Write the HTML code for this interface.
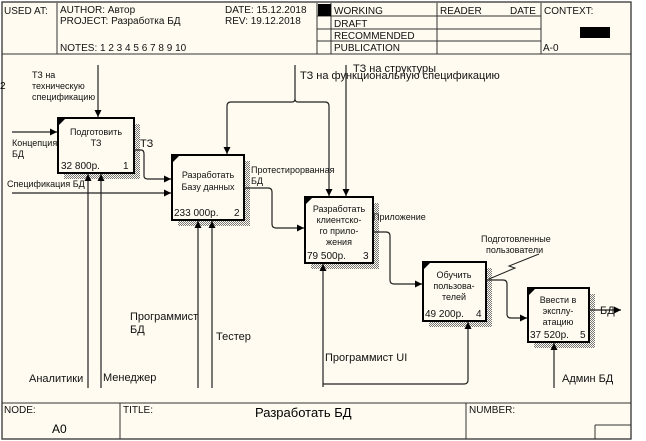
<!DOCTYPE html>
<html><head><meta charset="utf-8"><style>
body{margin:0;background:#fff;}
svg{display:block;font-family:"Liberation Sans",Arial,sans-serif;}
</style></head><body>
<svg width="646" height="441" viewBox="0 0 646 441" xmlns="http://www.w3.org/2000/svg">
<defs>
<pattern id="sh" width="2" height="2" patternUnits="userSpaceOnUse"><rect width="2" height="2" fill="#fffbf0"/><rect width="1" height="1" fill="#777"/><rect x="1" y="1" width="1" height="1" fill="#777"/></pattern>
<marker id="ar" markerWidth="8" markerHeight="8" refX="7" refY="3.5" orient="auto" markerUnits="userSpaceOnUse"><path d="M0,0 L7,3.5 L0,7 z" fill="#000"/></marker>
</defs>
<rect x="2" y="2" width="629" height="437" fill="#fffbf0" stroke="#333" stroke-width="1.3"/>
<!-- header -->
<g stroke="#333" stroke-width="1" fill="none">
<line x1="2" y1="54" x2="631" y2="54"/>
<line x1="57" y1="3" x2="57" y2="54"/>
<line x1="317" y1="3" x2="317" y2="54"/>
<line x1="331" y1="3" x2="331" y2="54"/>
<line x1="437" y1="3" x2="437" y2="54"/>
<line x1="541" y1="3" x2="541" y2="54"/>
<line x1="317" y1="16" x2="541" y2="16"/>
<line x1="317" y1="29" x2="541" y2="29"/>
<line x1="317" y1="41" x2="541" y2="41"/>
<!-- footer -->
<line x1="2" y1="403" x2="631" y2="403"/>
<line x1="120" y1="403" x2="120" y2="439"/>
<line x1="466" y1="403" x2="466" y2="439"/>
<line x1="595" y1="425" x2="631" y2="425"/>
<line x1="595" y1="425" x2="595" y2="439"/>
</g>
<rect x="318" y="4" width="13" height="12" fill="#000"/>
<rect x="580" y="27" width="30" height="11" fill="#000"/>
<g font-size="10" fill="#111">
<text x="4" y="14">USED AT:</text>
<text x="60" y="13">AUTHOR:  Автор</text>
<text x="60" y="24">PROJECT:  Разработка БД</text>
<text x="60" y="51">NOTES:  1  2  3  4  5  6  7  8  9  10</text>
<text x="225" y="13">DATE:  15.12.2018</text>
<text x="225" y="24">REV:    19.12.2018</text>
<text x="334" y="14">WORKING</text>
<text x="334" y="27">DRAFT</text>
<text x="334" y="39">RECOMMENDED</text>
<text x="334" y="51">PUBLICATION</text>
<text x="440" y="14">READER</text>
<text x="510" y="14">DATE</text>
<text x="544" y="14">CONTEXT:</text>
<text x="543" y="51">A-0</text>
<text x="4" y="413">NODE:</text>
<text x="123" y="413">TITLE:</text>
<text x="469" y="413">NUMBER:</text>
</g>
<text x="52" y="433" font-size="12">A0</text>
<text x="255" y="417" font-size="13">Разработать БД</text>
<text x="0" y="89" font-size="10">2</text>

<!-- shadows -->
<g fill="url(#sh)">
<rect x="64" y="124" width="76" height="55"/>
<rect x="178" y="161" width="72" height="65"/>
<rect x="311" y="203" width="68" height="66"/>
<rect x="429" y="268" width="63" height="59"/>
<rect x="534" y="294" width="61" height="54"/>
</g>
<g fill="#fffbf0" stroke="#000" stroke-width="2">
<rect x="58" y="118" width="76" height="55"/>
<rect x="172" y="155" width="72" height="65"/>
<rect x="305" y="197" width="68" height="66"/>
<rect x="423" y="262" width="63" height="59"/>
<rect x="528" y="288" width="61" height="54"/>
</g>
<g fill="#000">
<path d="M59,119 h6 l-6,6z"/><path d="M173,156 h6 l-6,6z"/><path d="M306,198 h6 l-6,6z"/><path d="M424,263 h6 l-6,6z"/><path d="M529,289 h6 l-6,6z"/>
</g>
<g font-size="9" fill="#111" text-anchor="middle">
<text x="96" y="135">Подготовить</text><text x="96" y="146">ТЗ</text>
<text x="208" y="178">Разработать</text><text x="208" y="190">Базу данных</text>
<text x="339" y="212">Разработать</text><text x="339" y="223">клиентско-</text><text x="339" y="234">го прило-</text><text x="339" y="245">жения</text>
<text x="454" y="278">Обучить</text><text x="454" y="289">пользова-</text><text x="454" y="300">телей</text>
<text x="558" y="303">Ввести  в</text><text x="558" y="314">эксплу-</text><text x="558" y="325">атацию</text>
</g>
<g font-size="10" fill="#111">
<text x="61" y="169">32 800р.</text><text x="123" y="169">1</text>
<text x="174" y="216">233 000р.</text><text x="234" y="216">2</text>
<text x="307" y="259">79 500р.</text><text x="363" y="259">3</text>
<text x="425" y="317">49 200р.</text><text x="476" y="317">4</text>
<text x="530" y="338">37 520р.</text><text x="580" y="338">5</text>
</g>

<!-- arrows -->
<g stroke="#222" stroke-width="1.2" fill="none">
<path d="M12,132 H57" marker-end="url(#ar)"/>
<path d="M12,193 H171" marker-end="url(#ar)"/>
<path d="M98,65 V117" marker-end="url(#ar)"/>
<path d="M134,150 H141 Q144,150 144,154 V176 Q144,179 148,179 H171" marker-end="url(#ar)"/>
<path d="M88,388 V174" marker-end="url(#ar)"/>
<path d="M101,388 V174" marker-end="url(#ar)"/>
<path d="M198,388 V221" marker-end="url(#ar)"/>
<path d="M212,388 V221" marker-end="url(#ar)"/>
<path d="M244,188 H268 Q272,188 272,192 V224 Q272,228 276,228 H304" marker-end="url(#ar)"/>
<path d="M295,65 V99 Q295,102 292,102 H231 Q227,102 227,106 V154" marker-end="url(#ar)"/>
<path d="M295,99 Q295,102 298,102 H325 Q329,102 329,106 V196" marker-end="url(#ar)"/>
<path d="M346,65 V196" marker-end="url(#ar)"/>
<path d="M373,232 H386 Q390,232 390,236 V280 Q390,284 394,284 H422" marker-end="url(#ar)"/>
<path d="M323,387 V264" marker-end="url(#ar)"/>
<path d="M323,384 H464 Q468,384 468,380 V322" marker-end="url(#ar)"/>
<path d="M486,280 H503 Q507,280 507,284 V314 Q507,318 511,318 H527" marker-end="url(#ar)"/>
<path d="M589,310 H621" marker-end="url(#ar)"/>
<path d="M554,388 V343" marker-end="url(#ar)"/>
<path d="M489,279 L515,268 L509,266 L539,254" stroke-width="1"/>
</g>
<g font-size="9" fill="#111">
<text x="32" y="78">ТЗ на</text><text x="32" y="89">техническую</text><text x="32" y="100">спецификацию</text>
<text x="12" y="146">Концепция</text><text x="12" y="157">БД</text>
<text x="7" y="187">Спецификация БД</text>
<text x="251" y="173">Протестирорванная</text><text x="251" y="184">БД</text>
<text x="373" y="220">Приложение</text>
<text x="481" y="242">Подготовленные</text><text x="486" y="253">пользователи</text>
</g>
<g font-size="11" fill="#111">
<text x="140" y="147">ТЗ</text>
<text x="300" y="79">ТЗ на функциональную спецификацию</text>
<text x="353" y="72">ТЗ на структуры</text>
<text x="600" y="314">БД</text>
<text x="130" y="320">Программист</text><text x="130" y="333">БД</text>
<text x="216" y="340">Тестер</text>
<text x="325" y="361">Программист UI</text>
<text x="29" y="382">Аналитики</text>
<text x="103" y="381">Менеджер</text>
<text x="562" y="382">Админ БД</text>
</g>
</svg>
</body></html>
